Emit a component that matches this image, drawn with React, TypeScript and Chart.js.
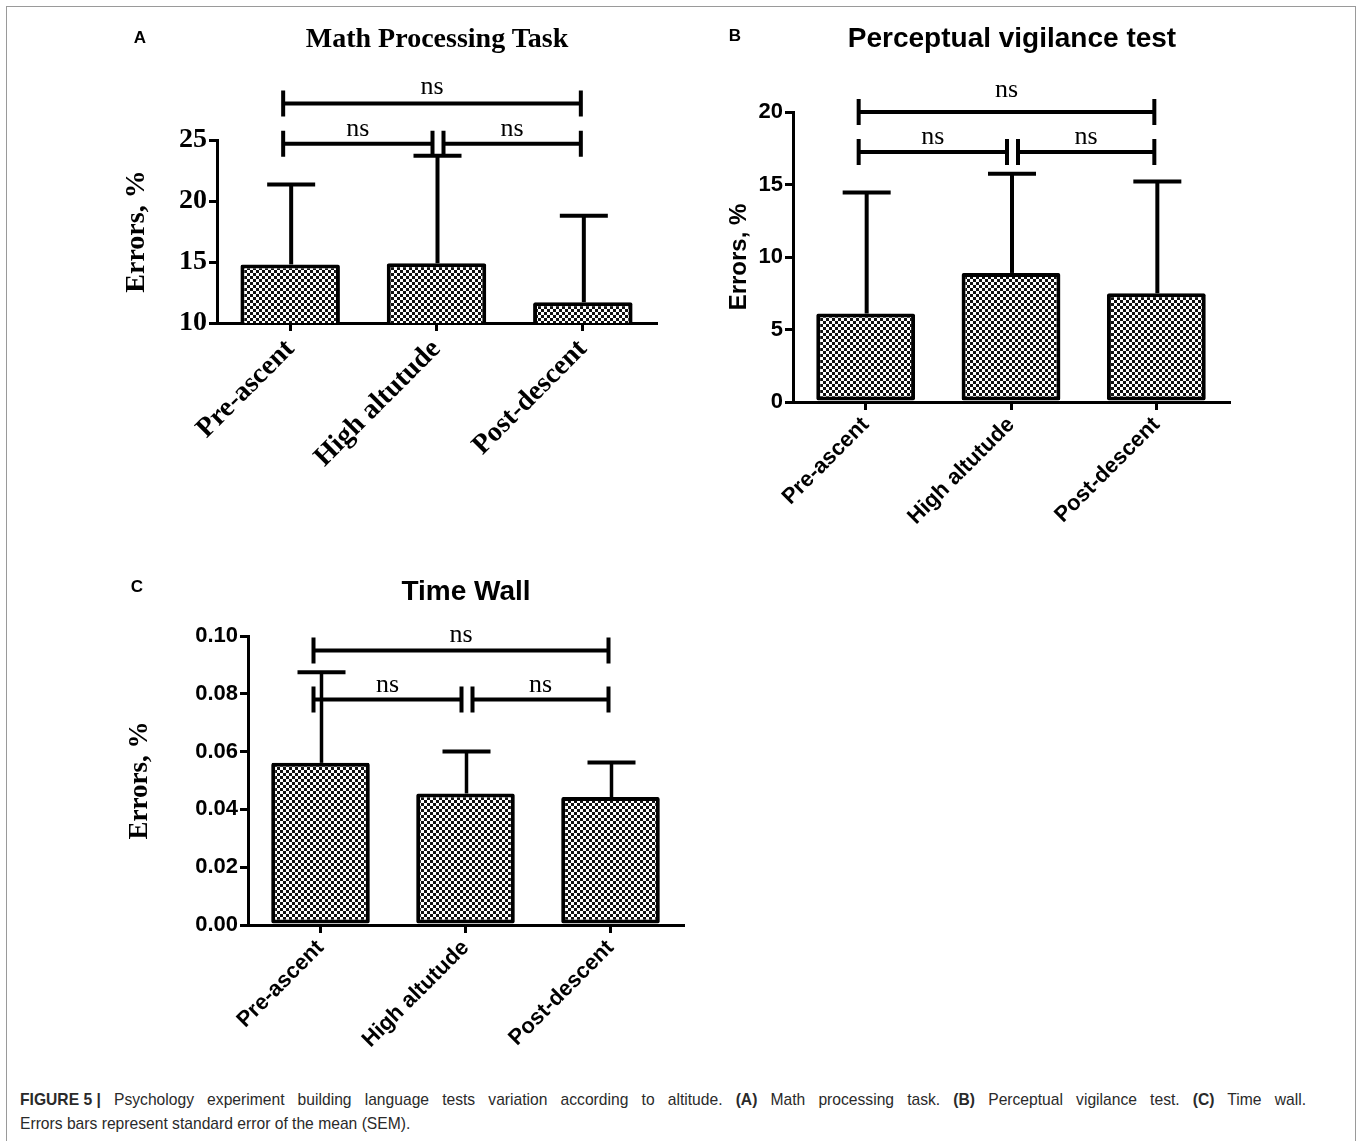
import React, { useEffect, useRef } from "react";
import { Chart, registerables } from "chart.js";

Chart.register(...registerables);

// ---------------- DATA ----------------
const categories = ["Pre-ascent", "High altutude", "Post-descent"];
const yAxisTitle = "Errors, %";
const sigLabel = "ns";

// (A) Math Processing Task
const mathTitle = "Math Processing Task";
const mathMeans = [14.8, 14.9, 11.7];
const mathSem = [6.55, 8.8, 7.1];
const mathTicks = [10, 15, 20, 25];
const mathBrackets = [
  [0, 2, 28.0],
  [0, 1, 24.7],
  [1, 2, 24.7],
];

// (B) Perceptual vigilance test
const vigTitle = "Perceptual vigilance test";
const vigMeans = [6.1, 8.9, 7.5];
const vigSem = [8.35, 6.85, 7.7];
const vigTicks = [0, 5, 10, 15, 20];
const vigBrackets = [
  [0, 2, 20.0],
  [0, 1, 17.25],
  [1, 2, 17.25],
];

// (C) Time Wall
const timeTitle = "Time Wall";
const timeMeans = [0.0561, 0.0455, 0.0443];
const timeSem = [0.0314, 0.0145, 0.0119];
const timeTicks = [0, 0.02, 0.04, 0.06, 0.08, 0.1];
const timeBrackets = [
  [0, 2, 0.095],
  [0, 1, 0.078],
  [1, 2, 0.078],
];

// ---------------- STYLES ----------------
const SERIF = "'Liberation Serif', 'Times New Roman', serif";
const SANS = "'Liberation Sans', Arial, sans-serif";

type PanelCfg = {
  means: number[];
  sem: number[];
  ticks: number[];
  brackets: number[][];
  decimals: number;
  left: number;
  top: number;
  width: number;
  height: number;
  padTop: number;
  padRight: number;
  yWidth: number;
  xHeight: number;
  tickFamily: string;
  tickSize: number;
  xTickSize: number;
  titleFamily: string;
  titleSize: number;
  titlePad: number;
  errWidth: number;
  topLift: number;
};

function makePattern(): CanvasPattern | string {
  const c = document.createElement("canvas");
  c.width = 6;
  c.height = 6;
  const g = c.getContext("2d");
  if (!g) return "#777";
  g.fillStyle = "#ffffff";
  g.fillRect(0, 0, 6, 6);
  g.fillStyle = "#111111";
  g.fillRect(0, 0, 3, 3);
  g.fillRect(3, 3, 3, 3);
  const p = g.createPattern(c, "repeat");
  return p || "#777";
}

function makeOverlay(cfg: PanelCfg) {
  return {
    id: "errAndBrackets",
    afterDatasetsDraw(chart: any) {
      const ctx = chart.ctx;
      const xs = chart.scales.x;
      const ys = chart.scales.y;
      const meta = chart.getDatasetMeta(0);
      ctx.save();
      ctx.strokeStyle = "#000";
      ctx.fillStyle = "#000";
      ctx.lineCap = "butt";
      // error bars (upper, SEM)
      meta.data.forEach((el: any, i: number) => {
        const top = ys.getPixelForValue(cfg.means[i] + cfg.sem[i]);
        ctx.lineWidth = cfg.errWidth;
        ctx.beginPath();
        ctx.moveTo(el.x + 1, el.y);
        ctx.lineTo(el.x + 1, top);
        ctx.stroke();
        ctx.lineWidth = 4;
        ctx.beginPath();
        ctx.moveTo(el.x - 23, top);
        ctx.lineTo(el.x + 25, top);
        ctx.stroke();
      });
      // significance brackets
      const last = categories.length - 1;
      cfg.brackets.forEach((b, k) => {
        const [from, to, level] = b;
        const yb = ys.getPixelForValue(level);
        const xa = xs.getPixelForValue(from) + (from === 0 ? -7 : 7);
        const xb = xs.getPixelForValue(to) + (to === last ? -2 : -4);
        ctx.lineWidth = 4;
        ctx.beginPath();
        ctx.moveTo(xa, yb);
        ctx.lineTo(xb, yb);
        ctx.stroke();
        ctx.beginPath();
        ctx.moveTo(xa, yb - 13);
        ctx.lineTo(xa, yb + 13);
        ctx.moveTo(xb, yb - 13);
        ctx.lineTo(xb, yb + 13);
        ctx.stroke();
        ctx.font = `26px ${SERIF}`;
        ctx.textAlign = "center";
        ctx.textBaseline = "alphabetic";
        const lift = k === 0 ? cfg.topLift : 8;
        ctx.fillText(sigLabel, (xa + xb) / 2, yb - lift);
      });
      ctx.restore();
    },
  };
}

function Panel({ cfg }: { cfg: PanelCfg }) {
  const ref = useRef<HTMLCanvasElement | null>(null);
  useEffect(() => {
    if (!ref.current) return;
    const pattern = makePattern();
    const tickFont = { family: cfg.tickFamily, size: cfg.tickSize, weight: "bold" as const };
    const xTickFont = { family: cfg.tickFamily, size: cfg.xTickSize, weight: "bold" as const };
    const chart = new Chart(ref.current, {
      type: "bar",
      data: {
        labels: categories,
        datasets: [
          {
            data: cfg.means,
            backgroundColor: pattern as any,
            borderColor: "#000",
            borderWidth: 4,
            borderSkipped: false,
            borderRadius: 2,
            barPercentage: 0.68,
            categoryPercentage: 1,
          },
        ],
      },
      options: {
        responsive: false,
        animation: false,
        events: [],
        layout: { padding: { left: 0, top: cfg.padTop, right: cfg.padRight, bottom: 0 } },
        plugins: {
          legend: { display: false },
          tooltip: { enabled: false },
          title: { display: false },
        },
        scales: {
          x: {
            type: "category",
            offset: true,
            grid: {
              display: true,
              drawOnChartArea: false,
              drawTicks: true,
              tickLength: 8,
              offset: false,
              color: "#000",
              lineWidth: 3,
            },
            border: { display: true, color: "#000", width: 3 },
            ticks: {
              autoSkip: false,
              maxRotation: 45,
              minRotation: 45,
              color: "#000",
              font: xTickFont,
              padding: 2,
            },
            afterFit: (s: any) => {
              s.height = cfg.xHeight;
            },
          },
          y: {
            type: "linear",
            min: cfg.ticks[0],
            max: cfg.ticks[cfg.ticks.length - 1],
            afterBuildTicks: (s: any) => {
              s.ticks = cfg.ticks.map((v) => ({ value: v }));
            },
            grid: {
              display: true,
              drawOnChartArea: false,
              drawTicks: true,
              tickLength: 8,
              color: "#000",
              lineWidth: 3,
            },
            border: { display: true, color: "#000", width: 3 },
            ticks: {
              color: "#000",
              font: tickFont,
              padding: 2,
              callback: (v: any) => Number(v).toFixed(cfg.decimals),
            },
            title: {
              display: true,
              text: yAxisTitle,
              color: "#000",
              font: { family: cfg.titleFamily, size: cfg.titleSize, weight: "bold" },
              padding: { top: cfg.titlePad, bottom: 0 },
            },
            afterFit: (s: any) => {
              s.width = cfg.yWidth;
            },
          },
        },
      },
      plugins: [makeOverlay(cfg)],
    });
    return () => chart.destroy();
  }, [cfg]);
  return (
    <canvas
      ref={ref}
      width={cfg.width}
      height={cfg.height}
      style={{
        position: "absolute",
        left: cfg.left,
        top: cfg.top,
        width: cfg.width,
        height: cfg.height,
      }}
    />
  );
}

const panelA: PanelCfg = {
  means: mathMeans,
  sem: mathSem,
  ticks: mathTicks,
  brackets: mathBrackets,
  decimals: 0,
  left: 100,
  top: 0,
  width: 600,
  height: 500,
  padTop: 140,
  padRight: 44,
  yWidth: 117,
  xHeight: 177,
  tickFamily: SERIF,
  tickSize: 28,
  xTickSize: 28,
  titleFamily: SERIF,
  titleSize: 28,
  titlePad: 20,
  errWidth: 4,
  topLift: 9,
};

const panelB: PanelCfg = {
  means: vigMeans,
  sem: vigSem,
  ticks: vigTicks,
  brackets: vigBrackets,
  decimals: 0,
  left: 700,
  top: 0,
  width: 600,
  height: 540,
  padTop: 112,
  padRight: 71,
  yWidth: 93,
  xHeight: 138,
  tickFamily: SANS,
  tickSize: 22,
  xTickSize: 22,
  titleFamily: SANS,
  titleSize: 24,
  titlePad: 25,
  errWidth: 4,
  topLift: 15,
};

const panelC: PanelCfg = {
  means: timeMeans,
  sem: timeSem,
  ticks: timeTicks,
  brackets: timeBrackets,
  decimals: 2,
  left: 100,
  top: 560,
  width: 620,
  height: 500,
  padTop: 76,
  padRight: 37,
  yWidth: 148,
  xHeight: 135,
  tickFamily: SANS,
  tickSize: 22,
  xTickSize: 22,
  titleFamily: SERIF,
  titleSize: 27,
  titlePad: 24,
  errWidth: 3.5,
  topLift: 8,
};

function CenterText({
  x,
  y,
  text,
  family,
  size,
}: {
  x: number;
  y: number;
  text: string;
  family: string;
  size: number;
}) {
  return (
    <div
      style={{
        position: "absolute",
        left: x,
        top: y,
        transform: "translate(-50%, -50%)",
        fontFamily: family,
        fontSize: size,
        fontWeight: "bold",
        color: "#000",
        whiteSpace: "nowrap",
        lineHeight: 1,
      }}
    >
      {text}
    </div>
  );
}

const CAPTION_SCALE = 0.92;
const CAPTION_WIDTH = 1286;

export default function App() {
  return (
    <div
      style={{
        position: "absolute",
        left: 0,
        top: 0,
        width: 1358,
        height: 1141,
        background: "#fff",
        overflow: "hidden",
      }}
    >
      <div
        style={{
          position: "absolute",
          left: 6,
          top: 6,
          width: 1348,
          height: 1140,
          borderTop: "1px solid #9a9a9a",
          borderLeft: "1px solid #9a9a9a",
          borderRight: "1px solid #9a9a9a",
        }}
      />
      <Panel cfg={panelA} />
      <Panel cfg={panelB} />
      <Panel cfg={panelC} />

      <CenterText x={140} y={37} text="A" family={SANS} size={17} />
      <CenterText x={735} y={35} text="B" family={SANS} size={17} />
      <CenterText x={137} y={586} text="C" family={SANS} size={17} />

      <CenterText x={437} y={38} text={mathTitle} family={SERIF} size={28} />
      <CenterText x={1012} y={38} text={vigTitle} family={SANS} size={28} />
      <CenterText x={466} y={591} text={timeTitle} family={SANS} size={28} />

      <div
        style={{
          position: "absolute",
          left: 20,
          top: 1088,
          width: CAPTION_WIDTH / CAPTION_SCALE,
          fontFamily: SANS,
          fontSize: 17,
          lineHeight: "24px",
          color: "#2a2a2a",
          transform: `scaleX(${CAPTION_SCALE})`,
          transformOrigin: "0 0",
        }}
      >
        <div style={{ textAlign: "justify", textAlignLast: "justify", whiteSpace: "normal" }}>
          <b style={{ display: "inline-block" }}>FIGURE 5 |</b> Psychology experiment building
          language tests variation according to altitude. <b>(A)</b> Math processing task.{" "}
          <b>(B)</b> Perceptual vigilance test. <b>(C)</b> Time wall.
        </div>
        <div style={{ whiteSpace: "nowrap" }}>
          Errors bars represent standard error of the mean (SEM).
        </div>
      </div>
    </div>
  );
}
